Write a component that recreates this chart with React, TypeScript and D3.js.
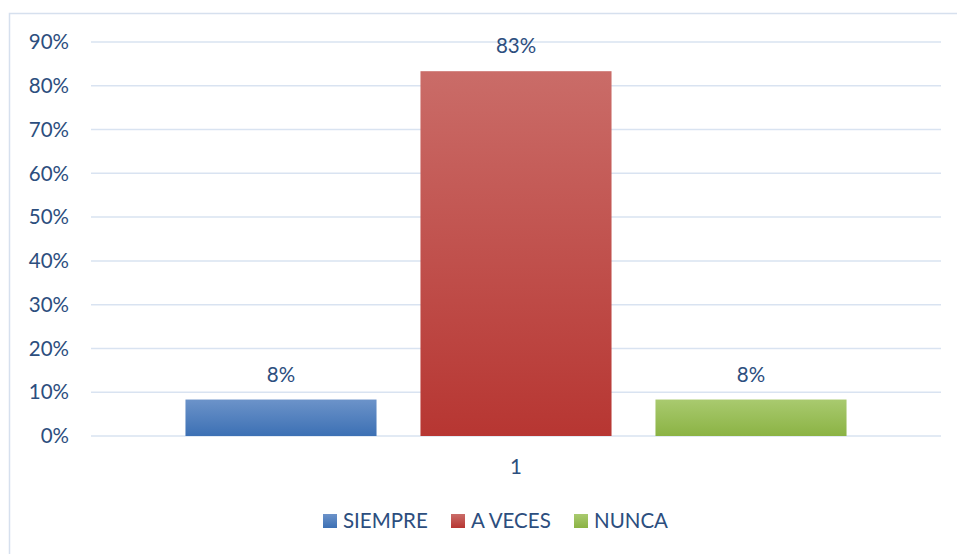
import React, { useEffect, useRef } from "react";
import * as d3 from "d3";

const categories = ["1"];
const seriesNames = ["SIEMPRE", "A VECES", "NUNCA"];
const seriesValues = [0.0833, 0.8333, 0.0833];
const valueLabels = ["8%", "83%", "8%"];
const yTicks = [0, 0.1, 0.2, 0.3, 0.4, 0.5, 0.6, 0.7, 0.8, 0.9];
const gradients = [
  ["#6C93C9", "#3C70B4"],
  ["#CA6C68", "#B73632"],
  ["#A9CA6F", "#8BB344"],
];

export default function App() {
  const svgRef = useRef<SVGSVGElement>(null);

  useEffect(() => {
    const width = 957;
    const height = 554;
    const margin = { left: 91, right: 16, top: 42, bottom: 118 };
    const textColor = "#2C4E7E";
    const font = "Lato, 'Open Sans', sans-serif";
    const fontSize = "20.5px";

    const svg = d3.select(svgRef.current).attr("width", width).attr("height", height);
    svg.selectAll("*").remove();

    const defs = svg.append("defs");
    gradients.forEach((g, i) => {
      const lg = defs
        .append("linearGradient")
        .attr("id", `grad${i}`)
        .attr("x1", 0)
        .attr("y1", 0)
        .attr("x2", 0)
        .attr("y2", 1);
      lg.append("stop").attr("offset", "0%").attr("stop-color", g[0]);
      lg.append("stop").attr("offset", "100%").attr("stop-color", g[1]);
    });

    // chart frame
    svg
      .append("rect")
      .attr("x", 9.5)
      .attr("y", 13.5)
      .attr("width", 980)
      .attr("height", 580)
      .attr("fill", "white")
      .attr("stroke", "#D6E0EE")
      .attr("stroke-width", 1.5);

    const y = d3
      .scaleLinear()
      .domain([0, 0.9])
      .range([436, margin.top]);

    const x0 = d3
      .scaleBand()
      .domain(categories)
      .range([margin.left, width - margin.right])
      .paddingInner(0)
      .paddingOuter(0);

    const x1 = d3
      .scaleBand()
      .domain(seriesNames)
      .range([0, x0.bandwidth()])
      .paddingInner(0.187)
      .paddingOuter(0.402);

    // gridlines
    svg
      .append("g")
      .selectAll("line")
      .data(yTicks)
      .join("line")
      .attr("x1", margin.left)
      .attr("x2", width - margin.right)
      .attr("y1", (d) => y(d))
      .attr("y2", (d) => y(d))
      .attr("stroke", "#D9E3F1")
      .attr("stroke-width", 1.5);

    // y tick labels
    svg
      .append("g")
      .selectAll("text")
      .data(yTicks)
      .join("text")
      .text((d) => d3.format(".0%")(d))
      .attr("x", 69)
      .attr("y", (d) => y(d))
      .attr("dy", "0.35em")
      .attr("text-anchor", "end")
      .attr("fill", textColor)
      .style("font-family", font)
      .style("font-size", fontSize);

    const g = svg.append("g");
    categories.forEach((cat) => {
      const bars = g.append("g").attr("transform", `translate(${x0(cat)},0)`);
      bars
        .selectAll("rect")
        .data(seriesValues)
        .join("rect")
        .attr("x", (d, i) => x1(seriesNames[i]) as number)
        .attr("y", (d) => y(d))
        .attr("width", x1.bandwidth())
        .attr("height", (d) => y(0) - y(d))
        .attr("fill", (d, i) => `url(#grad${i})`);

      bars
        .selectAll("text")
        .data(seriesValues)
        .join("text")
        .text((d, i) => valueLabels[i])
        .attr("x", (d, i) => (x1(seriesNames[i]) as number) + x1.bandwidth() / 2)
        .attr("y", (d) => y(d) - 18)
        .attr("text-anchor", "middle")
        .attr("fill", textColor)
        .style("font-family", font)
        .style("font-size", fontSize);

      svg
        .append("text")
        .text(cat)
        .attr("x", (x0(cat) as number) + x0.bandwidth() / 2)
        .attr("y", 474)
        .attr("text-anchor", "middle")
        .attr("fill", textColor)
        .style("font-family", font)
        .style("font-size", fontSize);
    });

    // legend
    const legendX = [323, 451, 574];
    const legend = svg.append("g");
    seriesNames.forEach((name, i) => {
      legend
        .append("rect")
        .attr("x", legendX[i])
        .attr("y", 514)
        .attr("width", 14)
        .attr("height", 14)
        .attr("fill", `url(#grad${i})`);
      legend
        .append("text")
        .text(name)
        .attr("x", legendX[i] + 20)
        .attr("y", 528)
        .attr("fill", textColor)
        .style("font-family", font)
        .style("font-size", fontSize);
    });
  }, []);

  return (
    <div>
      <svg ref={svgRef} style={{ position: "absolute", left: 0, top: 0 }}></svg>
    </div>
  );
}
